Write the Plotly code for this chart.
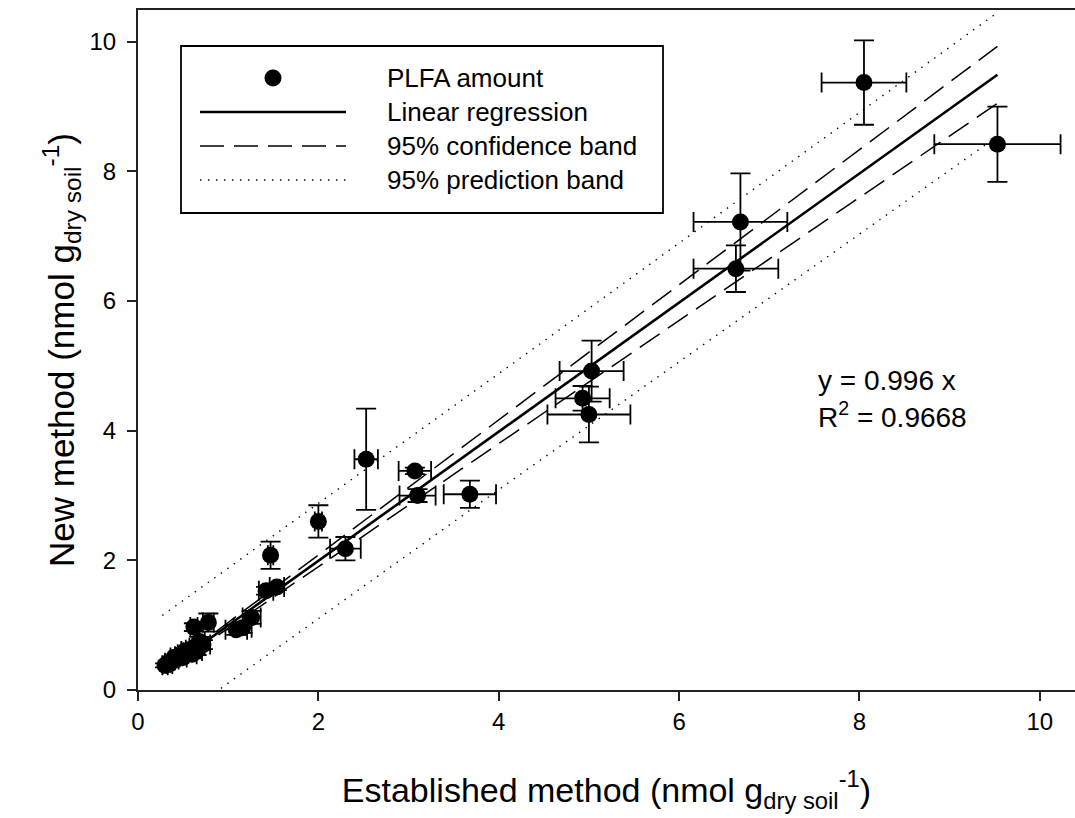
import plotly.graph_objects as go

# ---- data ----
est = [0.30, 0.33, 0.35, 0.38, 0.40, 0.42, 0.45, 0.48, 0.50, 0.52, 0.55, 0.58, 0.60, 0.62,
       0.65, 0.68, 0.72, 0.68, 0.62, 0.78,
       1.09, 1.16, 1.26, 1.42, 1.54, 1.47, 2.00, 2.30, 2.53, 3.07, 3.10, 3.68,
       4.93, 5.00, 5.03, 6.63, 6.68, 8.05, 9.53]
new = [0.38, 0.42, 0.40, 0.46, 0.50, 0.47, 0.52, 0.55, 0.50, 0.60, 0.58, 0.62, 0.55, 0.65,
       0.60, 0.68, 0.70, 0.75, 0.97, 1.04,
       0.93, 0.96, 1.12, 1.53, 1.59, 2.08, 2.60, 2.18, 3.56, 3.38, 3.00, 3.02,
       4.50, 4.25, 4.92, 6.50, 7.22, 9.37, 8.42]
est_err = [0.03, 0.03, 0.03, 0.03, 0.04, 0.03, 0.04, 0.04, 0.04, 0.04, 0.05, 0.05, 0.05, 0.05,
           0.06, 0.06, 0.08, 0.06, 0.04, 0.06,
           0.12, 0.10, 0.10, 0.08, 0.08, 0.03, 0.04, 0.17, 0.13, 0.18, 0.20, 0.29,
           0.30, 0.46, 0.355, 0.47, 0.52, 0.47, 0.70]
new_err = [0.03, 0.03, 0.03, 0.04, 0.04, 0.04, 0.05, 0.05, 0.05, 0.05, 0.05, 0.06, 0.06, 0.06,
           0.06, 0.06, 0.07, 0.07, 0.06, 0.14,
           0.08, 0.08, 0.10, 0.06, 0.05, 0.21, 0.25, 0.18, 0.78, 0.05, 0.10, 0.21,
           0.19, 0.43, 0.47, 0.36, 0.75, 0.65, 0.58]

slope = 0.996
r2 = 0.9668
x_min, x_max = 0.27, 9.53

# band lines
ci_x = [0.27, 9.53]
ci_upper = [0.28, 9.93]
ci_lower = [0.26, 9.05]
pi_x = [0.27, 4.10, 9.53]
pi_upper = [1.15, 4.98, 10.45]
pi_lower = [-0.62, 3.19, 8.54]

legend_labels = ["PLFA amount", "Linear regression", "95% confidence band", "95% prediction band"]
tick_vals = [0, 2, 4, 6, 8, 10]

FONT = "Liberation Sans, Arial, sans-serif"
DASH = "24px,10px"
DOT = "1.4px,6.6px"

fig = go.Figure()

fig.add_trace(go.Scatter(
    x=est, y=new, mode="markers", name=legend_labels[0],
    marker=dict(color="black", size=17, line=dict(width=0)),
    error_x=dict(type="data", array=est_err, color="black", thickness=1.8, width=10),
    error_y=dict(type="data", array=new_err, color="black", thickness=1.8, width=10),
))
fig.add_trace(go.Scatter(
    x=[x_min, x_max], y=[slope * x_min, slope * x_max], mode="lines",
    name=legend_labels[1], line=dict(color="black", width=2.6),
))
fig.add_trace(go.Scatter(
    x=ci_x, y=ci_upper, mode="lines", name=legend_labels[2],
    line=dict(color="black", width=1.5, dash=DASH),
))
fig.add_trace(go.Scatter(
    x=ci_x, y=ci_lower, mode="lines", name=legend_labels[2] + " (lower)",
    line=dict(color="black", width=1.5, dash=DASH),
))
fig.add_trace(go.Scatter(
    x=pi_x, y=pi_upper, mode="lines", name=legend_labels[3],
    line=dict(color="black", width=1.4, dash=DOT),
))
fig.add_trace(go.Scatter(
    x=pi_x, y=pi_lower, mode="lines", name=legend_labels[3] + " (lower)",
    line=dict(color="black", width=1.4, dash=DOT),
))

# regression equation
fig.add_annotation(x=7.52, y=4.77, xref="x", yref="y", text=f"y = {slope} x",
                   showarrow=False, xanchor="left", yanchor="middle",
                   font=dict(family=FONT, size=28, color="black"))
fig.add_annotation(x=7.52, y=4.24, xref="x", yref="y", text=f"R<sup>2</sup> = {r2}",
                   showarrow=False, xanchor="left", yanchor="middle",
                   font=dict(family=FONT, size=28, color="black"))

# ---- legend box drawn in paper coordinates ----
W, H, L, T = 937.0, 680.0, 138.0, 10.0
def px(xp):
    return (xp - L) / W
def py(yp):
    return (T + H - yp) / H

shapes = [dict(type="rect", xref="paper", yref="paper",
               x0=px(181), x1=px(663), y0=py(213), y1=py(46),
               line=dict(color="black", width=1.8), fillcolor="white", layer="above")]
rows = [78, 112, 146, 180]
# marker glyph
shapes.append(dict(type="circle", xref="paper", yref="paper",
                   xsizemode="pixel", ysizemode="pixel",
                   xanchor=px(273), yanchor=py(rows[0]),
                   x0=-8.5, x1=8.5, y0=-8.5, y1=8.5,
                   fillcolor="black", line=dict(width=0), layer="above"))
styles = [dict(color="black", width=2.6), dict(color="black", width=1.5, dash=DASH),
          dict(color="black", width=1.4, dash=DOT)]
for r, st in zip(rows[1:], styles):
    shapes.append(dict(type="line", xref="paper", yref="paper",
                       x0=px(200), x1=px(346), y0=py(r), y1=py(r),
                       line=st, layer="above"))
for r, lab in zip(rows, legend_labels):
    fig.add_annotation(x=px(385), y=py(r), xref="paper", yref="paper", text=lab,
                       showarrow=False, xanchor="left", yanchor="middle",
                       font=dict(family=FONT, size=26, color="black"))

fig.update_layout(
    width=1075, height=818,
    margin=dict(l=138, r=0, t=10, b=128),
    plot_bgcolor="white", paper_bgcolor="white",
    font=dict(family=FONT, color="black"),
    showlegend=False,
    shapes=shapes,
    xaxis=dict(
        range=[0, 10.39], tickvals=tick_vals,
        showline=True, linecolor="#222", linewidth=2.2, mirror=True,
        ticks="outside", ticklen=9, tickwidth=1.6, tickcolor="#222",
        showgrid=False, zeroline=False,
        tickfont=dict(family=FONT, size=24),
        title=dict(text="Established method (nmol g<sub>dry soil</sub><sup>-1</sup>)",
                   font=dict(family=FONT, size=34), standoff=44),
    ),
    yaxis=dict(
        range=[0, 10.49], tickvals=tick_vals,
        showline=True, linecolor="#222", linewidth=2.2,
        ticks="outside", ticklen=9, tickwidth=1.6, tickcolor="#222",
        ticklabelstandoff=6,
        showgrid=False, zeroline=False,
        tickfont=dict(family=FONT, size=24),
        title=dict(text="New method (nmol g<sub>dry soil</sub><sup>-1</sup>)",
                   font=dict(family=FONT, size=35), standoff=4),
    ),
)

fig.write_html("out.html")
